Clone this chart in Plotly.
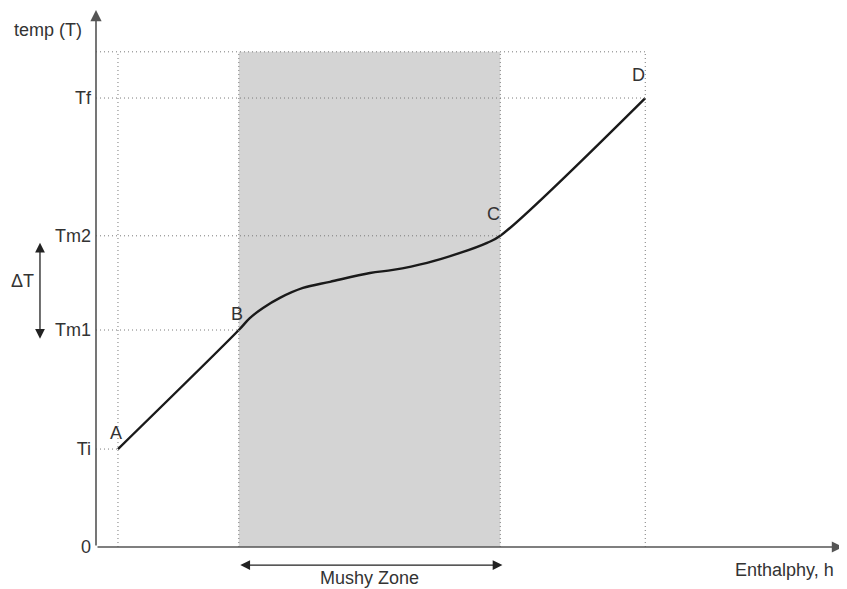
import plotly.graph_objects as go

# ---- data (abstract units) ----
point_names = ["A", "B", "C", "D"]
point_h = [1.0, 6.5, 18.4, 25.0]
point_T = [4.45, 9.86, 14.14, 20.4]

# mushy-zone curve between B and C
mushy_h = [7.0, 7.6, 8.37, 9.42, 10.65, 12.47, 13.52, 15.07, 16.57, 17.8]
mushy_T = [10.4, 10.86, 11.32, 11.77, 12.05, 12.45, 12.59, 12.91, 13.36, 13.82]

tick_labels = ["0", "Ti", "Tm1", "Tm2", "Tf"]
tick_values = [0, 4.45, 9.86, 14.14, 20.4]
top_T = 22.5

X_MAX = 34.0
Y_MAX = 24.4

FONT = "Liberation Sans, Arial, sans-serif"
TXT = "#333333"
DOT = "#7a7a7a"
FS = 18


def px(x):  # data x -> paper
    return x / X_MAX


def py(y):  # data y -> paper
    return y / Y_MAX


fig = go.Figure()

# curve A-B-(mushy)-C-D
curve_h = [point_h[0], point_h[1]] + mushy_h + [point_h[2], point_h[3]]
curve_T = [point_T[0], point_T[1]] + mushy_T + [point_T[2], point_T[3]]
fig.add_trace(go.Scatter(x=curve_h, y=curve_T, mode="lines",
                         line=dict(color="#1a1a1a", width=2.4, shape="spline", smoothing=1.0),
                         hoverinfo="skip", showlegend=False, cliponaxis=False))

shapes = []
# grey mushy zone
shapes.append(dict(type="rect", xref="x", yref="y", x0=point_h[1], x1=point_h[2], y0=0, y1=top_T,
                   fillcolor="#d4d4d4", line=dict(width=0), layer="below"))
# vertical dotted lines
for h in point_h:
    shapes.append(dict(type="line", xref="x", yref="y", x0=h, x1=h, y0=0, y1=top_T,
                       line=dict(color=DOT, width=1, dash="1px,3px"), layer="above"))
# horizontal dotted lines
for h, T in zip(point_h, point_T):
    shapes.append(dict(type="line", xref="x", yref="y", x0=0, x1=h, y0=T, y1=T,
                       line=dict(color=DOT, width=1, dash="1px,3px"), layer="above"))
shapes.append(dict(type="line", xref="x", yref="y", x0=0, x1=point_h[3], y0=top_T, y1=top_T,
                   line=dict(color=DOT, width=1, dash="1px,3px"), layer="above"))

annotations = []
# axes with arrows
annotations.append(dict(x=X_MAX, y=0, ax=0, ay=0, xref="x", yref="y", axref="x", ayref="y",
                        showarrow=True, arrowhead=2, arrowsize=1.4, arrowwidth=1.6,
                        arrowcolor="#555555", text=""))
annotations.append(dict(x=0, y=Y_MAX, ax=0, ay=0, xref="x", yref="y", axref="x", ayref="y",
                        showarrow=True, arrowhead=2, arrowsize=1.4, arrowwidth=1.6,
                        arrowcolor="#555555", text=""))
# point labels
label_dx = [-0.1, -0.1, -0.3, -0.3]
label_dy = [0.75, 0.72, 1.0, 1.05]
for n, h, T, dx, dy in zip(point_names, point_h, point_T, label_dx, label_dy):
    annotations.append(dict(x=h + dx, y=T + dy, xref="x", yref="y", text=n, showarrow=False,
                            xanchor="center", yanchor="middle",
                            font=dict(family=FONT, size=FS, color=TXT)))
# mushy zone double arrow
arrow_len = (point_h[2] + 0.1 - point_h[1]) * 747 / X_MAX
annotations.append(dict(x=point_h[2] + 0.1, y=py(-0.82), ax=-arrow_len, ay=0, xref="x", yref="paper",
                        axref="pixel", ayref="pixel", showarrow=True, arrowhead=2,
                        arrowside="end+start", arrowsize=1.5, arrowwidth=1.3,
                        arrowcolor="#222222", text=""))
annotations.append(dict(x=(point_h[1] + point_h[2]) / 2, y=py(-1.42), xref="x", yref="paper",
                        text="Mushy Zone", showarrow=False, xanchor="center", yanchor="middle",
                        font=dict(family=FONT, size=FS, color=TXT)))
# delta T arrow
dT_len = ((tick_values[3] - 0.25) - (tick_values[2] - 0.4)) * 537 / Y_MAX
annotations.append(dict(x=px(-2.55), y=tick_values[2] - 0.4, ax=0, ay=-dT_len,
                        xref="paper", yref="y", axref="pixel", ayref="pixel", showarrow=True,
                        arrowhead=2, arrowside="end+start", arrowsize=1.5, arrowwidth=1.3,
                        arrowcolor="#222222", text=""))
annotations.append(dict(x=px(-3.35), y=(tick_values[2] + tick_values[3]) / 2 + 0.1,
                        xref="paper", yref="y", text="ΔT", showarrow=False,
                        xanchor="center", yanchor="middle",
                        font=dict(family=FONT, size=FS, color=TXT)))
# axis titles
annotations.append(dict(x=px(-2.2), y=23.5, xref="paper", yref="y", text="temp (T)",
                        showarrow=False, xanchor="center", yanchor="middle",
                        font=dict(family=FONT, size=FS, color=TXT)))
annotations.append(dict(x=px(X_MAX - 0.3), y=py(-1.05), xref="paper", yref="paper",
                        text="Enthalphy, h", showarrow=False, xanchor="right", yanchor="middle",
                        font=dict(family=FONT, size=FS, color=TXT)))

fig.update_layout(
    width=839, height=581,
    margin=dict(l=88, r=4, t=2, b=42),
    paper_bgcolor="white", plot_bgcolor="white",
    shapes=shapes, annotations=annotations,
    xaxis=dict(range=[0, X_MAX], showgrid=False, zeroline=False, showline=False,
               showticklabels=False, ticks=""),
    yaxis=dict(range=[0, Y_MAX], showgrid=False, zeroline=False, showline=False,
               tickvals=tick_values, ticktext=tick_labels, ticks="",
               ticklabelstandoff=4,
               tickfont=dict(family=FONT, size=FS, color=TXT)),
    showlegend=False,
)

fig.write_html("out.html")
